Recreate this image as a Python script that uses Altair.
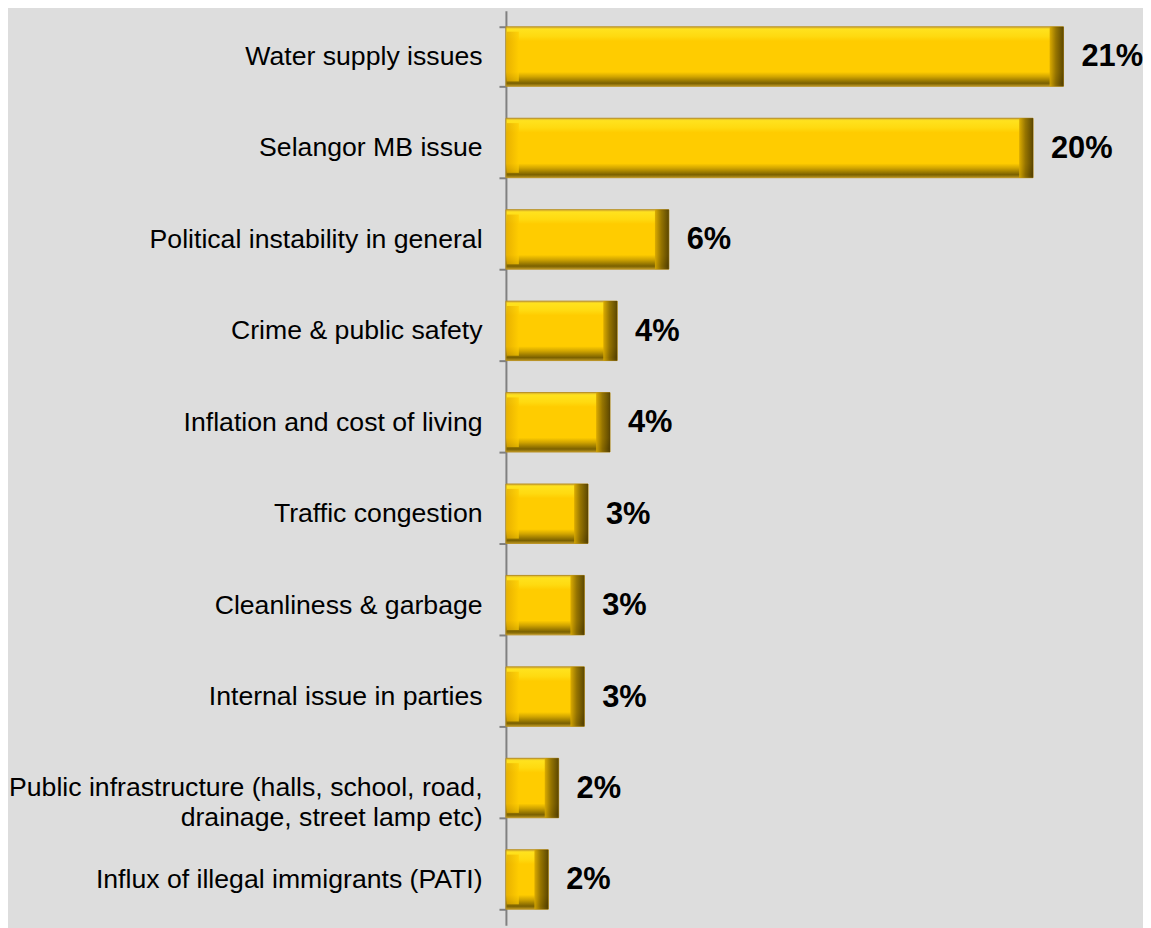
import altair as alt
import pandas as pd

categories = [
    "Water supply issues",
    "Selangor MB issue",
    "Political instability in general",
    "Crime & public safety",
    "Inflation and cost of living\u00a0",
    "Traffic congestion",
    "Cleanliness & garbage",
    "Internal issue in parties",
    "Public infrastructure (halls, school, road, drainage, street lamp etc)",
    "Influx of illegal immigrants (PATI)",
]
values = [21.05, 19.9, 6.15, 4.2, 3.93, 3.1, 2.96, 2.96, 1.99, 1.6]
labels = ["21%", "20%", "6%", "4%", "4%", "3%", "3%", "3%", "2%", "2%"]

df = pd.DataFrame({"category": categories, "value": values, "label": labels})

gold_gradient = {
    "gradient": "linear",
    "x1": 0, "x2": 0, "y1": 0, "y2": 1,
    "stops": [
        {"offset": 0.0, "color": "#D8B030"},
        {"offset": 0.04, "color": "#FFE21E"},
        {"offset": 0.16, "color": "#FFDA10"},
        {"offset": 0.24, "color": "#FFCC00"},
        {"offset": 0.76, "color": "#FFCC00"},
        {"offset": 0.84, "color": "#D0A400"},
        {"offset": 0.95, "color": "#7A6000"},
        {"offset": 1.0, "color": "#B89420"},
    ],
}
right_edge = {
    "gradient": "linear",
    "x1": 0, "x2": 1, "y1": 0, "y2": 0,
    "stops": [
        {"offset": 0.0, "color": "#D8A800"},
        {"offset": 0.45, "color": "#8A6A00"},
        {"offset": 1.0, "color": "#4A3800"},
    ],
}
left_edge = {
    "gradient": "linear",
    "x1": 0, "x2": 1, "y1": 0, "y2": 0,
    "stops": [
        {"offset": 0.0, "color": "#E0A800"},
        {"offset": 1.0, "color": "#FFCC00"},
    ],
}

y_enc = alt.Y(
    "category:N",
    sort=categories,
    scale=alt.Scale(paddingInner=0.35, paddingOuter=0.175),
    axis=alt.Axis(
        title=None,
        labelFont="Liberation Sans",
        labelFontSize=26.8,
        labelColor="#000000",
        labelPadding=17,
        labelLimit=600,
        labelLineHeight=30,
        labelExpr="split(replace(datum.label, 'road, ', 'road,|'), '|')",
        domainColor="#808080",
        domainWidth=2,
        tickColor="#808080",
        tickWidth=2,
        tickSize=7,
        tickBand="extent",
        grid=False,
    ),
)
x_scale = alt.Scale(domain=[0, 23.6], nice=False)
x_enc = alt.X("value:Q", scale=x_scale, axis=None)

base = alt.Chart(df)

bars = base.mark_bar(color=gold_gradient, stroke="#B89020", strokeWidth=1).encode(x=x_enc, y=y_enc)

left = base.mark_tick(
    color=left_edge, thickness=12, size=50, xOffset=7, opacity=0.7
).encode(x=alt.X(datum=0, scale=x_scale, axis=None), y=y_enc)

right = base.mark_tick(
    color=right_edge, thickness=14, size=60, xOffset=-7, opacity=0.9
).encode(x=x_enc, y=y_enc)

text = base.mark_text(
    align="left", baseline="middle", dx=18, dy=1,
    font="Liberation Sans", fontSize=31, fontWeight="bold", color="#000000",
).encode(x=x_enc, y=y_enc, text="label:N")

chart = (
    alt.layer(bars, left, right, text)
    .properties(
        width=629,
        height=920,
        background="#DDDDDD",
        autosize=alt.AutoSizeParams(type="none"),
        padding={"left": 501, "top": 0, "right": 12, "bottom": 0},
    )
    .configure_view(stroke=None)
)

chart.save("out.html", embed_options={"renderer": "svg", "actions": False})
